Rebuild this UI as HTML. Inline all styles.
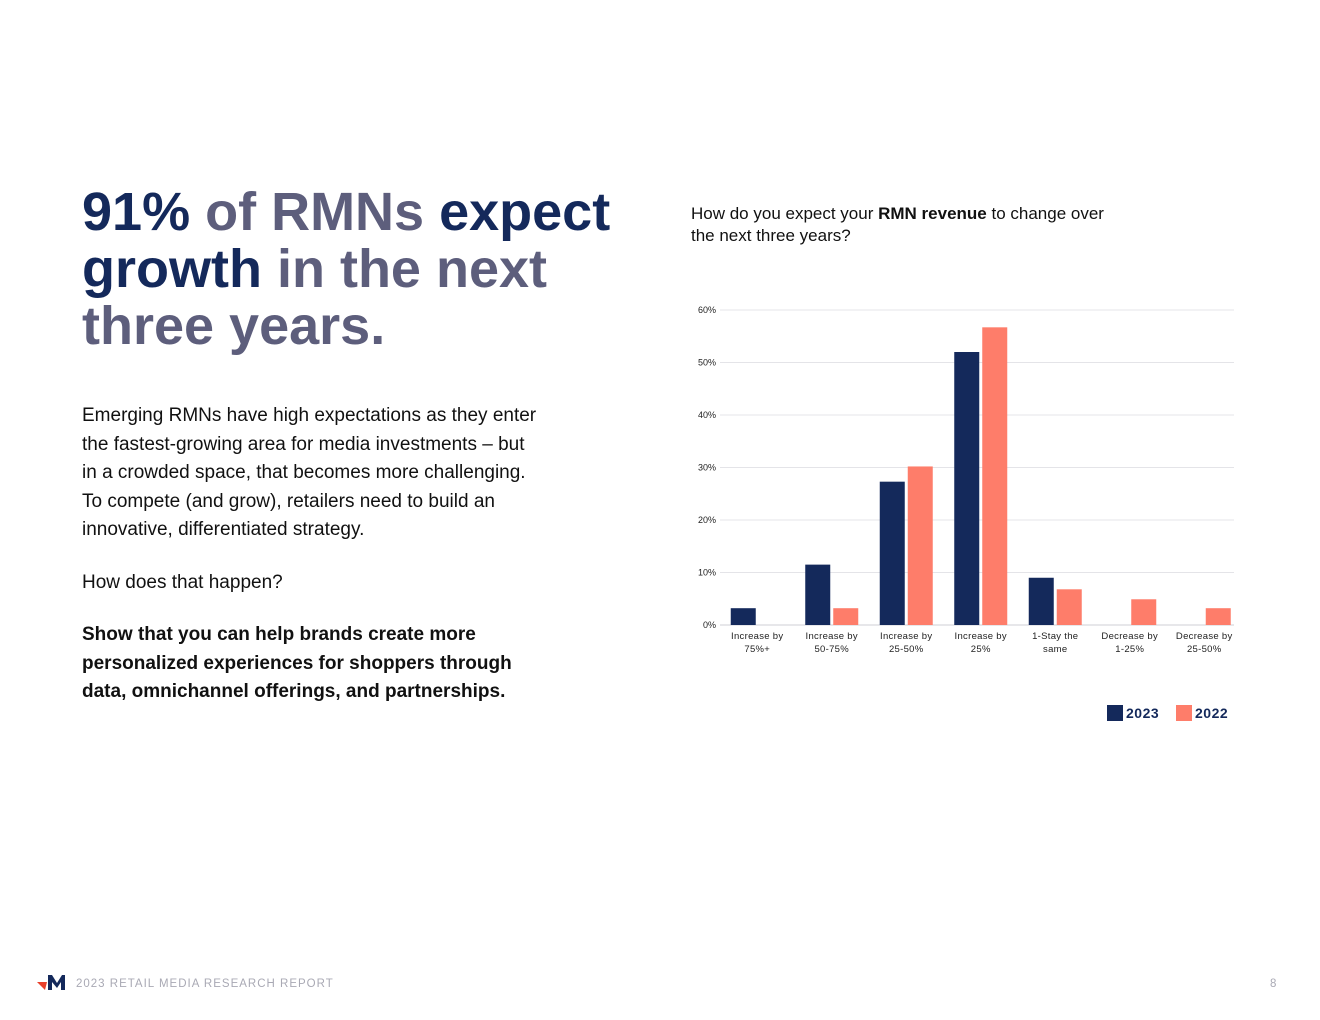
<!DOCTYPE html>
<html><head><meta charset="utf-8">
<style>
html,body{margin:0;padding:0;background:#fff;}
body{width:1320px;height:1020px;position:relative;overflow:hidden;font-family:"Liberation Sans",sans-serif;}
.h1{position:absolute;left:82px;top:184px;font-size:54px;font-weight:bold;line-height:57px;color:#5d5e7c;letter-spacing:0;margin:0;}
.h1 b{color:#14295b;}
.body{position:absolute;left:82px;top:402px;width:520px;font-size:19px;line-height:28.5px;color:#111;white-space:nowrap;}
.body p{margin:0 0 24px 0;}
.q{position:absolute;left:691px;top:203px;font-size:17px;line-height:22px;color:#111;}
.foot{position:absolute;left:76px;top:978px;font-size:11.5px;letter-spacing:1px;color:#a9a9b4;}
.pg{position:absolute;left:1270px;top:978px;font-size:11.5px;color:#a9a9b4;}
</style></head><body>
<h1 class="h1"><b>91%</b> of RMNs <b>expect<br>growth</b> in the next<br>three years.</h1>
<div class="body">
<p>Emerging RMNs have high expectations as they enter<br>the fastest-growing area for media investments – but<br>in a crowded space, that becomes more challenging.<br>To compete (and grow), retailers need to build an<br>innovative, differentiated strategy.</p>
<p>How does that happen?</p>
<p style="font-weight:bold">Show that you can help brands create more<br>personalized experiences for shoppers through<br>data, omnichannel offerings, and partnerships.</p>
</div>
<div class="q">How do you expect your <b>RMN revenue</b> to change over<br>the next three years?</div>
<svg id="chart" style="position:absolute;left:0;top:0" width="1320" height="1020"></svg>
<svg style="position:absolute;left:37px;top:974px" width="30" height="18">
<polygon points="0,8 10,8 8,16" fill="#e8402b"/>
<polygon points="11,1 15,1 20,9 25,1 28,1 28,16 24,16 24,8 20,14 15,8 15,16 11,16" fill="#14295b"/>
</svg>
<div class="foot">2023 RETAIL MEDIA RESEARCH REPORT</div>
<div class="pg">8</div>
<script>
const categories=[["Increase by","75%+"],["Increase by","50-75%"],["Increase by","25-50%"],["Increase by","25%"],["1-Stay the","same"],["Decrease by","1-25%"],["Decrease by","25-50%"]];
const values2023=[3.2,11.5,27.3,52,9,0,0];
const values2022=[0,3.2,30.2,56.7,6.8,4.9,3.2];
const ticks=[0,10,20,30,40,50,60];
const tickLabels=["0%","10%","20%","30%","40%","50%","60%"];
const seriesNames=["2023","2022"];
const NS="http://www.w3.org/2000/svg";
const svg=document.getElementById('chart');
const x0=716,x1=1234,y0=625,y1=310;
const y=v=>y0-(v/60)*(y0-y1);
const bw=74.5;
const xc=i=>x0+bw*(i+0.5)+4;
function mk(t,a){const e=document.createElementNS(NS,t);for(const k in a)e.setAttribute(k,a[k]);svg.appendChild(e);return e;}
ticks.forEach((t,i)=>{
  const l=mk('line',{x1:x0+4,x2:x1,y1:y(t),y2:y(t),stroke:t===0?'#cfcfd4':'#e4e4e8','stroke-width':1});
  
  
  const tx=mk('text',{x:x0,y:y(t)+3,'text-anchor':'end','font-size':9,fill:'#222','font-family':'Liberation Sans, sans-serif'});
  tx.textContent=tickLabels[i];
  
  
});
const W=25,G=1.5;
categories.forEach((c,i)=>{
  const a=mk('rect',{x:xc(i)-G-W,y:y(values2023[i]),width:W,height:y0-y(values2023[i]),fill:'#14295b'});
  
  
  const b=mk('rect',{x:xc(i)+G,y:y(values2022[i]),width:W,height:y0-y(values2022[i]),fill:'#fe7d6a'});
  
  
  c.forEach((s,j)=>{
    const t=mk('text',{x:xc(i),y:639+j*13,'text-anchor':'middle','font-size':9.5,fill:'#222','font-family':'Liberation Sans, sans-serif','letter-spacing':0.3});
    t.textContent=s;
    
    
  });
});
const lx=[1107,1176],colors=['#14295b','#fe7d6a'];
seriesNames.forEach((n,i)=>{
  const r=mk('rect',{x:lx[i],y:705,width:16,height:16,fill:colors[i]});
  
  
  const t=mk('text',{x:lx[i]+19,y:718,'font-size':14,'font-weight':'bold',fill:'#14295b','font-family':'Liberation Sans, sans-serif','letter-spacing':0.5});
  t.textContent=n;
  
  
});
</script>
</body></html>
